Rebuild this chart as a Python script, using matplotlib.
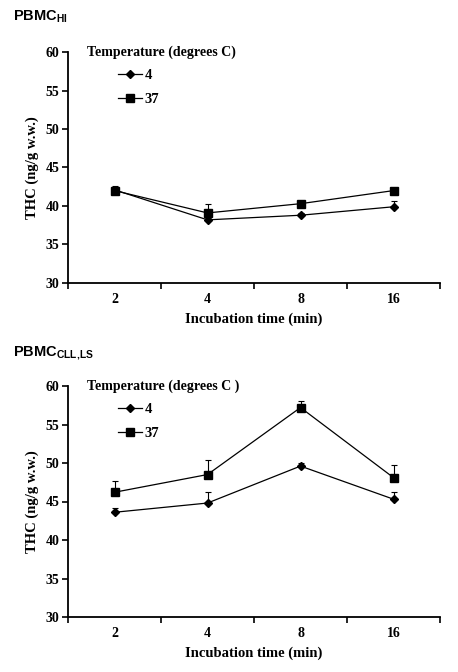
import matplotlib
matplotlib.use("Agg")
import matplotlib.pyplot as plt
import numpy as np

categories = ["2", "4", "8", "16"]
yticks = [30, 35, 40, 45, 50, 55, 60]

hi_4 = [42.1, 38.2, 38.8, 39.9]
hi_4_err = [0.5, 0.3, 0.3, 0.7]
hi_37 = [42.0, 39.1, 40.3, 42.0]
hi_37_err = [0.3, 1.1, 0.3, 0.2]

cll_4 = [43.6, 44.8, 49.6, 45.3]
cll_4_err = [0.6, 1.4, 0.4, 0.9]
cll_37 = [46.2, 48.5, 57.2, 48.1]
cll_37_err = [1.4, 1.9, 0.9, 1.6]

panels = [
    ("PBMC", "HI", hi_4, hi_4_err, hi_37, hi_37_err, "Temperature (degrees C)"),
    ("PBMC", "CLL,LS", cll_4, cll_4_err, cll_37, cll_37_err, "Temperature (degrees C )"),
]

plt.rcParams['mathtext.fontset'] = 'custom'
plt.rcParams['mathtext.bf'] = 'Liberation Sans:bold'
plt.rcParams['mathtext.rm'] = 'Liberation Sans:bold'

fig = plt.figure(figsize=(4.58, 6.72), dpi=100)
serif = "Liberation Serif"

axes_rects = [
    [68/458, 1-283/672, (440-68)/458, (283-52)/672],
    [68/458, 1-617/672, (440-68)/458, (617-386)/672],
]
title_y = [1-17/672, 1-353/672]

for (base, sub, s4, e4, s37, e37, legtitle), rect, ty in zip(panels, axes_rects, title_y):
    ax = fig.add_axes(rect)
    x = np.arange(len(categories))
    ax.errorbar(x, s4, yerr=[np.zeros(len(e4)), e4], fmt="none", ecolor="black",
                elinewidth=0.8, capsize=2.5, capthick=0.8)
    ax.errorbar(x, s37, yerr=[np.zeros(len(e37)), e37], fmt="none", ecolor="black",
                elinewidth=0.8, capsize=2.5, capthick=0.8)
    ax.plot(x, s4, color="black", lw=0.9, marker="D", ms=4.5, label="4")
    ax.plot(x, s37, color="black", lw=0.9, marker="s", ms=5.5, label="37")
    ax.set_xlim(-0.5, len(categories) - 0.5)
    ax.set_ylim(30, 60)
    ax.set_yticks(yticks)
    ax.set_yticklabels([str(v) for v in yticks], fontfamily=serif, fontweight="bold", fontsize=10)
    ax.set_xticks(x)
    ax.set_xticklabels(categories, fontfamily=serif, fontweight="bold", fontsize=10)
    ax.set_xticks(np.arange(-0.5, len(categories)), minor=True)
    ax.tick_params(axis="x", which="major", length=0, pad=7)
    ax.tick_params(axis="x", which="minor", length=4, width=1.2, direction="out")
    ax.tick_params(axis="y", length=4, width=1.2, direction="out", pad=2)
    for side in ["top", "right"]:
        ax.spines[side].set_visible(False)
    for side in ["left", "bottom"]:
        ax.spines[side].set_linewidth(1.3)
    ax.set_xlabel("Incubation time (min)", fontfamily=serif, fontweight="bold", fontsize=10.5, labelpad=5)
    ax.set_ylabel("THC (ng/g w.w.)", fontfamily=serif, fontweight="bold", fontsize=10.5, labelpad=5)
    ax.text(0.05, 1.0, legtitle, transform=ax.transAxes, fontfamily=serif,
            fontweight="bold", fontsize=10, va="center", ha="left")
    leg = ax.legend(loc="upper left", bbox_to_anchor=(0.1, 0.985), frameon=False,
                    handlelength=1.6, handletextpad=0.2, labelspacing=0.75,
                    prop={"family": serif, "weight": "bold", "size": 10.5})
    fig.text(13/458, ty, r"$\mathbf{%s}_{\mathbf{%s}}$" % (base, sub.replace(",", ",\\!")),
             fontsize=10.5, va="center", ha="left")

fig.savefig("out.png", dpi=100)
